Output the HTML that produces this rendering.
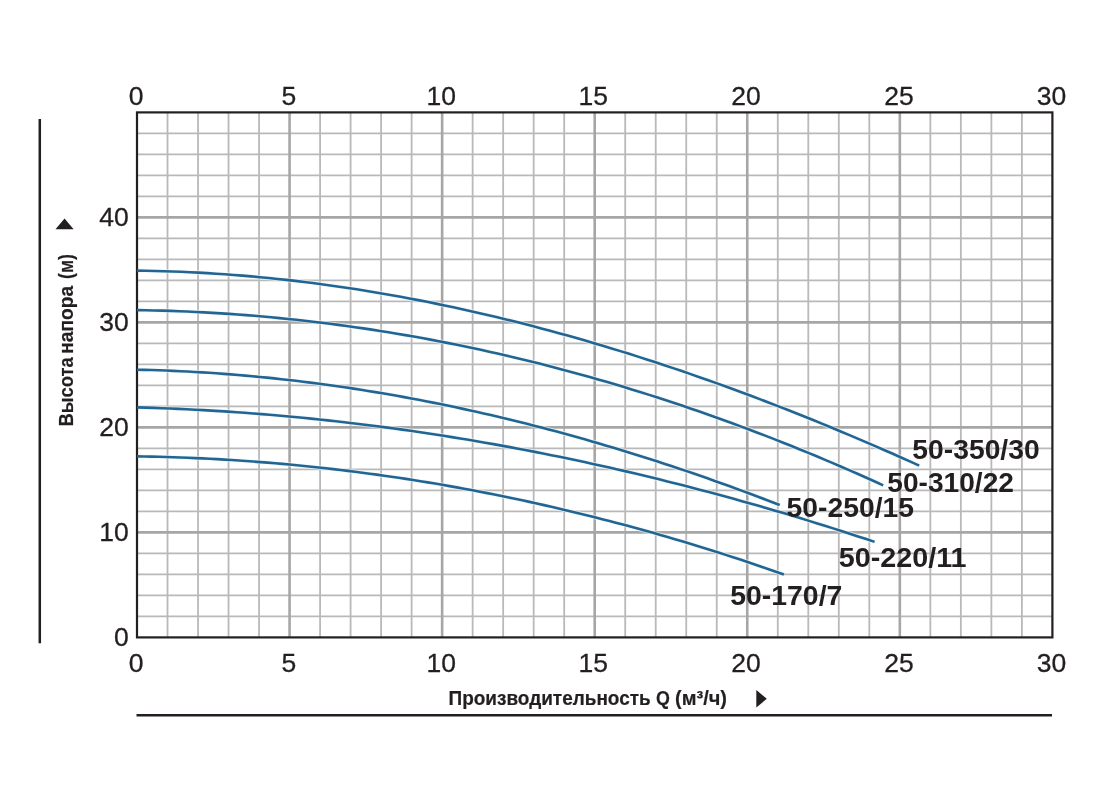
<!DOCTYPE html>
<html><head><meta charset="utf-8"><style>
html,body{margin:0;padding:0;background:#fff;width:1116px;height:790px;overflow:hidden}
svg{display:block;will-change:transform}
text{font-family:"Liberation Sans",sans-serif;fill:#231f20}
.tk{font-size:26.5px;stroke:#231f20;stroke-width:0.3px}
.cl{font-size:27px;font-weight:bold}
.ax{font-size:19.5px;font-weight:bold;stroke:#231f20;stroke-width:0.2px}
.gm{stroke:#b9b9b9;stroke-width:1.8}
.gM{stroke:#a6a6a6;stroke-width:2.6}
.cs{fill:none;stroke:#eef8fc;stroke-width:4.6;stroke-opacity:0.6}
.cv{fill:none;stroke:#236592;stroke-width:2.6;stroke-linecap:butt}
</style></head><body>
<svg width="1116" height="790" viewBox="0 0 1116 790">
<rect width="1116" height="790" fill="#fff"/>
<line x1="167.51" y1="112.40" x2="167.51" y2="637.40" class="gm"/><line x1="198.03" y1="112.40" x2="198.03" y2="637.40" class="gm"/><line x1="228.54" y1="112.40" x2="228.54" y2="637.40" class="gm"/><line x1="259.05" y1="112.40" x2="259.05" y2="637.40" class="gm"/><line x1="320.08" y1="112.40" x2="320.08" y2="637.40" class="gm"/><line x1="350.59" y1="112.40" x2="350.59" y2="637.40" class="gm"/><line x1="381.11" y1="112.40" x2="381.11" y2="637.40" class="gm"/><line x1="411.62" y1="112.40" x2="411.62" y2="637.40" class="gm"/><line x1="472.65" y1="112.40" x2="472.65" y2="637.40" class="gm"/><line x1="503.16" y1="112.40" x2="503.16" y2="637.40" class="gm"/><line x1="533.67" y1="112.40" x2="533.67" y2="637.40" class="gm"/><line x1="564.19" y1="112.40" x2="564.19" y2="637.40" class="gm"/><line x1="625.21" y1="112.40" x2="625.21" y2="637.40" class="gm"/><line x1="655.73" y1="112.40" x2="655.73" y2="637.40" class="gm"/><line x1="686.24" y1="112.40" x2="686.24" y2="637.40" class="gm"/><line x1="716.75" y1="112.40" x2="716.75" y2="637.40" class="gm"/><line x1="777.78" y1="112.40" x2="777.78" y2="637.40" class="gm"/><line x1="808.29" y1="112.40" x2="808.29" y2="637.40" class="gm"/><line x1="838.81" y1="112.40" x2="838.81" y2="637.40" class="gm"/><line x1="869.32" y1="112.40" x2="869.32" y2="637.40" class="gm"/><line x1="930.35" y1="112.40" x2="930.35" y2="637.40" class="gm"/><line x1="960.86" y1="112.40" x2="960.86" y2="637.40" class="gm"/><line x1="991.37" y1="112.40" x2="991.37" y2="637.40" class="gm"/><line x1="1021.89" y1="112.40" x2="1021.89" y2="637.40" class="gm"/><line x1="137.00" y1="616.40" x2="1052.40" y2="616.40" class="gm"/><line x1="137.00" y1="595.40" x2="1052.40" y2="595.40" class="gm"/><line x1="137.00" y1="574.40" x2="1052.40" y2="574.40" class="gm"/><line x1="137.00" y1="553.40" x2="1052.40" y2="553.40" class="gm"/><line x1="137.00" y1="511.40" x2="1052.40" y2="511.40" class="gm"/><line x1="137.00" y1="490.40" x2="1052.40" y2="490.40" class="gm"/><line x1="137.00" y1="469.40" x2="1052.40" y2="469.40" class="gm"/><line x1="137.00" y1="448.40" x2="1052.40" y2="448.40" class="gm"/><line x1="137.00" y1="406.40" x2="1052.40" y2="406.40" class="gm"/><line x1="137.00" y1="385.40" x2="1052.40" y2="385.40" class="gm"/><line x1="137.00" y1="364.40" x2="1052.40" y2="364.40" class="gm"/><line x1="137.00" y1="343.40" x2="1052.40" y2="343.40" class="gm"/><line x1="137.00" y1="301.40" x2="1052.40" y2="301.40" class="gm"/><line x1="137.00" y1="280.40" x2="1052.40" y2="280.40" class="gm"/><line x1="137.00" y1="259.40" x2="1052.40" y2="259.40" class="gm"/><line x1="137.00" y1="238.40" x2="1052.40" y2="238.40" class="gm"/><line x1="137.00" y1="196.40" x2="1052.40" y2="196.40" class="gm"/><line x1="137.00" y1="175.40" x2="1052.40" y2="175.40" class="gm"/><line x1="137.00" y1="154.40" x2="1052.40" y2="154.40" class="gm"/><line x1="137.00" y1="133.40" x2="1052.40" y2="133.40" class="gm"/><line x1="289.57" y1="112.40" x2="289.57" y2="637.40" class="gM"/><line x1="442.13" y1="112.40" x2="442.13" y2="637.40" class="gM"/><line x1="594.70" y1="112.40" x2="594.70" y2="637.40" class="gM"/><line x1="747.27" y1="112.40" x2="747.27" y2="637.40" class="gM"/><line x1="899.83" y1="112.40" x2="899.83" y2="637.40" class="gM"/><line x1="137.00" y1="532.40" x2="1052.40" y2="532.40" class="gM"/><line x1="137.00" y1="427.40" x2="1052.40" y2="427.40" class="gM"/><line x1="137.00" y1="322.40" x2="1052.40" y2="322.40" class="gM"/><line x1="137.00" y1="217.40" x2="1052.40" y2="217.40" class="gM"/>
<path class="cs" d="M137.00,270.64 L145.79,270.77 L154.58,270.95 L163.37,271.18 L172.16,271.46 L180.94,271.80 L189.73,272.19 L198.52,272.64 L207.31,273.13 L216.10,273.68 L224.89,274.28 L233.68,274.93 L242.47,275.63 L251.25,276.38 L260.04,277.19 L268.83,278.04 L277.62,278.95 L286.41,279.90 L295.20,280.91 L303.99,281.97 L312.78,283.07 L321.56,284.22 L330.35,285.43 L339.14,286.68 L347.93,287.98 L356.72,289.33 L365.51,290.73 L374.30,292.17 L383.09,293.66 L391.87,295.20 L400.66,296.79 L409.45,298.42 L418.24,300.11 L427.03,301.83 L435.82,303.61 L444.61,305.43 L453.40,307.29 L462.18,309.20 L470.97,311.16 L479.76,313.16 L488.55,315.21 L497.34,317.30 L506.13,319.43 L514.92,321.61 L523.71,323.83 L532.49,326.10 L541.28,328.41 L550.07,330.77 L558.86,333.16 L567.65,335.60 L576.44,338.08 L585.23,340.61 L594.02,343.18 L602.80,345.78 L611.59,348.43 L620.38,351.12 L629.17,353.86 L637.96,356.63 L646.75,359.44 L655.54,362.30 L664.33,365.19 L673.11,368.13 L681.90,371.10 L690.69,374.12 L699.48,377.17 L708.27,380.26 L717.06,383.39 L725.85,386.56 L734.64,389.77 L743.42,393.02 L752.21,396.30 L761.00,399.62 L769.79,402.98 L778.58,406.38 L787.37,409.81 L796.16,413.28 L804.95,416.79 L813.73,420.33 L822.52,423.91 L831.31,427.53 L840.10,431.18 L848.89,434.86 L857.68,438.58 L866.47,442.34 L875.26,446.13 L884.04,449.96 L892.83,453.81 L901.62,457.71 L910.41,461.63 L919.20,465.59"/><path class="cs" d="M137.00,310.13 L145.38,310.27 L153.77,310.44 L162.15,310.66 L170.54,310.92 L178.92,311.22 L187.31,311.56 L195.69,311.95 L204.07,312.37 L212.46,312.84 L220.84,313.35 L229.23,313.90 L237.61,314.50 L246.00,315.13 L254.38,315.81 L262.76,316.53 L271.15,317.29 L279.53,318.09 L287.92,318.93 L296.30,319.81 L304.69,320.74 L313.07,321.71 L321.45,322.72 L329.84,323.77 L338.22,324.86 L346.61,326.00 L354.99,327.18 L363.38,328.39 L371.76,329.65 L380.14,330.96 L388.53,332.30 L396.91,333.69 L405.30,335.11 L413.68,336.58 L422.07,338.09 L430.45,339.64 L438.83,341.24 L447.22,342.87 L455.60,344.55 L463.99,346.27 L472.37,348.03 L480.76,349.83 L489.14,351.67 L497.52,353.56 L505.91,355.48 L514.29,357.45 L522.68,359.46 L531.06,361.52 L539.44,363.61 L547.83,365.74 L556.21,367.92 L564.60,370.14 L572.98,372.40 L581.37,374.70 L589.75,377.05 L598.13,379.43 L606.52,381.86 L614.90,384.33 L623.29,386.84 L631.67,389.39 L640.06,391.98 L648.44,394.62 L656.82,397.29 L665.21,400.01 L673.59,402.77 L681.98,405.58 L690.36,408.42 L698.75,411.30 L707.13,414.23 L715.51,417.20 L723.90,420.21 L732.28,423.26 L740.67,426.35 L749.05,429.49 L757.44,432.67 L765.82,435.89 L774.20,439.15 L782.59,442.45 L790.97,445.79 L799.36,449.18 L807.74,452.60 L816.13,456.07 L824.51,459.58 L832.89,463.13 L841.28,466.72 L849.66,470.36 L858.05,474.04 L866.43,477.75 L874.82,481.51 L883.20,485.32"/><path class="cs" d="M137.00,369.68 L144.22,369.85 L151.44,370.05 L158.66,370.28 L165.89,370.55 L173.11,370.85 L180.33,371.18 L187.55,371.54 L194.77,371.94 L201.99,372.36 L209.21,372.82 L216.43,373.31 L223.66,373.84 L230.88,374.39 L238.10,374.98 L245.32,375.60 L252.54,376.25 L259.76,376.93 L266.98,377.65 L274.21,378.39 L281.43,379.17 L288.65,379.98 L295.87,380.82 L303.09,381.69 L310.31,382.59 L317.53,383.53 L324.76,384.49 L331.98,385.48 L339.20,386.51 L346.42,387.57 L353.64,388.66 L360.86,389.78 L368.08,390.92 L375.30,392.10 L382.53,393.31 L389.75,394.56 L396.97,395.83 L404.19,397.13 L411.41,398.46 L418.63,399.82 L425.85,401.22 L433.08,402.64 L440.30,404.09 L447.52,405.57 L454.74,407.09 L461.96,408.63 L469.18,410.20 L476.40,411.80 L483.62,413.43 L490.85,415.09 L498.07,416.78 L505.29,418.50 L512.51,420.25 L519.73,422.03 L526.95,423.84 L534.17,425.68 L541.40,427.54 L548.62,429.44 L555.84,431.36 L563.06,433.32 L570.28,435.30 L577.50,437.31 L584.72,439.35 L591.94,441.42 L599.17,443.51 L606.39,445.64 L613.61,447.79 L620.83,449.97 L628.05,452.18 L635.27,454.42 L642.49,456.69 L649.72,458.98 L656.94,461.31 L664.16,463.66 L671.38,466.04 L678.60,468.45 L685.82,470.88 L693.04,473.34 L700.27,475.83 L707.49,478.35 L714.71,480.90 L721.93,483.47 L729.15,486.07 L736.37,488.70 L743.59,491.35 L750.81,494.04 L758.04,496.75 L765.26,499.48 L772.48,502.25 L779.70,505.04"/><path class="cs" d="M137.00,407.39 L145.29,407.63 L153.58,407.90 L161.86,408.20 L170.15,408.53 L178.44,408.89 L186.73,409.28 L195.01,409.69 L203.30,410.14 L211.59,410.62 L219.88,411.12 L228.16,411.66 L236.45,412.22 L244.74,412.82 L253.03,413.44 L261.31,414.09 L269.60,414.77 L277.89,415.48 L286.18,416.22 L294.47,416.99 L302.75,417.79 L311.04,418.62 L319.33,419.47 L327.62,420.36 L335.90,421.27 L344.19,422.22 L352.48,423.19 L360.77,424.19 L369.05,425.22 L377.34,426.28 L385.63,427.37 L393.92,428.49 L402.20,429.63 L410.49,430.81 L418.78,432.01 L427.07,433.24 L435.36,434.50 L443.64,435.79 L451.93,437.11 L460.22,438.46 L468.51,439.83 L476.79,441.24 L485.08,442.67 L493.37,444.13 L501.66,445.62 L509.94,447.14 L518.23,448.69 L526.52,450.27 L534.81,451.87 L543.09,453.50 L551.38,455.16 L559.67,456.85 L567.96,458.57 L576.24,460.32 L584.53,462.09 L592.82,463.90 L601.11,465.73 L609.40,467.59 L617.68,469.47 L625.97,471.39 L634.26,473.33 L642.55,475.31 L650.83,477.31 L659.12,479.33 L667.41,481.39 L675.70,483.48 L683.98,485.59 L692.27,487.73 L700.56,489.90 L708.85,492.09 L717.13,494.32 L725.42,496.57 L733.71,498.85 L742.00,501.16 L750.29,503.50 L758.57,505.86 L766.86,508.25 L775.15,510.67 L783.44,513.12 L791.72,515.59 L800.01,518.10 L808.30,520.63 L816.59,523.18 L824.87,525.77 L833.16,528.38 L841.45,531.02 L849.74,533.69 L858.02,536.39 L866.31,539.11 L874.60,541.86"/><path class="cs" d="M137.00,456.38 L144.27,456.49 L151.54,456.64 L158.81,456.81 L166.07,457.01 L173.34,457.24 L180.61,457.49 L187.88,457.77 L195.15,458.08 L202.42,458.41 L209.69,458.78 L216.95,459.17 L224.22,459.58 L231.49,460.03 L238.76,460.50 L246.03,461.00 L253.30,461.52 L260.57,462.08 L267.83,462.66 L275.10,463.27 L282.37,463.90 L289.64,464.57 L296.91,465.26 L304.18,465.97 L311.44,466.72 L318.71,467.49 L325.98,468.29 L333.25,469.12 L340.52,469.97 L347.79,470.86 L355.06,471.77 L362.32,472.70 L369.59,473.67 L376.86,474.66 L384.13,475.68 L391.40,476.73 L398.67,477.80 L405.94,478.91 L413.20,480.04 L420.47,481.20 L427.74,482.38 L435.01,483.59 L442.28,484.83 L449.55,486.10 L456.82,487.40 L464.08,488.72 L471.35,490.07 L478.62,491.45 L485.89,492.86 L493.16,494.29 L500.43,495.75 L507.70,497.24 L514.96,498.76 L522.23,500.31 L529.50,501.88 L536.77,503.48 L544.04,505.11 L551.31,506.76 L558.58,508.45 L565.84,510.16 L573.11,511.90 L580.38,513.67 L587.65,515.46 L594.92,517.28 L602.19,519.14 L609.46,521.01 L616.72,522.92 L623.99,524.86 L631.26,526.82 L638.53,528.81 L645.80,530.83 L653.07,532.87 L660.33,534.95 L667.60,537.05 L674.87,539.18 L682.14,541.34 L689.41,543.52 L696.68,545.74 L703.95,547.98 L711.21,550.25 L718.48,552.55 L725.75,554.87 L733.02,557.23 L740.29,559.61 L747.56,562.02 L754.83,564.46 L762.09,566.93 L769.36,569.42 L776.63,571.94 L783.90,574.49"/>
<rect x="137.00" y="112.40" width="915.40" height="525.00" fill="none" stroke="#231f20" stroke-width="2.2"/>
<path class="cv" d="M137.00,270.64 L145.79,270.77 L154.58,270.95 L163.37,271.18 L172.16,271.46 L180.94,271.80 L189.73,272.19 L198.52,272.64 L207.31,273.13 L216.10,273.68 L224.89,274.28 L233.68,274.93 L242.47,275.63 L251.25,276.38 L260.04,277.19 L268.83,278.04 L277.62,278.95 L286.41,279.90 L295.20,280.91 L303.99,281.97 L312.78,283.07 L321.56,284.22 L330.35,285.43 L339.14,286.68 L347.93,287.98 L356.72,289.33 L365.51,290.73 L374.30,292.17 L383.09,293.66 L391.87,295.20 L400.66,296.79 L409.45,298.42 L418.24,300.11 L427.03,301.83 L435.82,303.61 L444.61,305.43 L453.40,307.29 L462.18,309.20 L470.97,311.16 L479.76,313.16 L488.55,315.21 L497.34,317.30 L506.13,319.43 L514.92,321.61 L523.71,323.83 L532.49,326.10 L541.28,328.41 L550.07,330.77 L558.86,333.16 L567.65,335.60 L576.44,338.08 L585.23,340.61 L594.02,343.18 L602.80,345.78 L611.59,348.43 L620.38,351.12 L629.17,353.86 L637.96,356.63 L646.75,359.44 L655.54,362.30 L664.33,365.19 L673.11,368.13 L681.90,371.10 L690.69,374.12 L699.48,377.17 L708.27,380.26 L717.06,383.39 L725.85,386.56 L734.64,389.77 L743.42,393.02 L752.21,396.30 L761.00,399.62 L769.79,402.98 L778.58,406.38 L787.37,409.81 L796.16,413.28 L804.95,416.79 L813.73,420.33 L822.52,423.91 L831.31,427.53 L840.10,431.18 L848.89,434.86 L857.68,438.58 L866.47,442.34 L875.26,446.13 L884.04,449.96 L892.83,453.81 L901.62,457.71 L910.41,461.63 L919.20,465.59"/><path class="cv" d="M137.00,310.13 L145.38,310.27 L153.77,310.44 L162.15,310.66 L170.54,310.92 L178.92,311.22 L187.31,311.56 L195.69,311.95 L204.07,312.37 L212.46,312.84 L220.84,313.35 L229.23,313.90 L237.61,314.50 L246.00,315.13 L254.38,315.81 L262.76,316.53 L271.15,317.29 L279.53,318.09 L287.92,318.93 L296.30,319.81 L304.69,320.74 L313.07,321.71 L321.45,322.72 L329.84,323.77 L338.22,324.86 L346.61,326.00 L354.99,327.18 L363.38,328.39 L371.76,329.65 L380.14,330.96 L388.53,332.30 L396.91,333.69 L405.30,335.11 L413.68,336.58 L422.07,338.09 L430.45,339.64 L438.83,341.24 L447.22,342.87 L455.60,344.55 L463.99,346.27 L472.37,348.03 L480.76,349.83 L489.14,351.67 L497.52,353.56 L505.91,355.48 L514.29,357.45 L522.68,359.46 L531.06,361.52 L539.44,363.61 L547.83,365.74 L556.21,367.92 L564.60,370.14 L572.98,372.40 L581.37,374.70 L589.75,377.05 L598.13,379.43 L606.52,381.86 L614.90,384.33 L623.29,386.84 L631.67,389.39 L640.06,391.98 L648.44,394.62 L656.82,397.29 L665.21,400.01 L673.59,402.77 L681.98,405.58 L690.36,408.42 L698.75,411.30 L707.13,414.23 L715.51,417.20 L723.90,420.21 L732.28,423.26 L740.67,426.35 L749.05,429.49 L757.44,432.67 L765.82,435.89 L774.20,439.15 L782.59,442.45 L790.97,445.79 L799.36,449.18 L807.74,452.60 L816.13,456.07 L824.51,459.58 L832.89,463.13 L841.28,466.72 L849.66,470.36 L858.05,474.04 L866.43,477.75 L874.82,481.51 L883.20,485.32"/><path class="cv" d="M137.00,369.68 L144.22,369.85 L151.44,370.05 L158.66,370.28 L165.89,370.55 L173.11,370.85 L180.33,371.18 L187.55,371.54 L194.77,371.94 L201.99,372.36 L209.21,372.82 L216.43,373.31 L223.66,373.84 L230.88,374.39 L238.10,374.98 L245.32,375.60 L252.54,376.25 L259.76,376.93 L266.98,377.65 L274.21,378.39 L281.43,379.17 L288.65,379.98 L295.87,380.82 L303.09,381.69 L310.31,382.59 L317.53,383.53 L324.76,384.49 L331.98,385.48 L339.20,386.51 L346.42,387.57 L353.64,388.66 L360.86,389.78 L368.08,390.92 L375.30,392.10 L382.53,393.31 L389.75,394.56 L396.97,395.83 L404.19,397.13 L411.41,398.46 L418.63,399.82 L425.85,401.22 L433.08,402.64 L440.30,404.09 L447.52,405.57 L454.74,407.09 L461.96,408.63 L469.18,410.20 L476.40,411.80 L483.62,413.43 L490.85,415.09 L498.07,416.78 L505.29,418.50 L512.51,420.25 L519.73,422.03 L526.95,423.84 L534.17,425.68 L541.40,427.54 L548.62,429.44 L555.84,431.36 L563.06,433.32 L570.28,435.30 L577.50,437.31 L584.72,439.35 L591.94,441.42 L599.17,443.51 L606.39,445.64 L613.61,447.79 L620.83,449.97 L628.05,452.18 L635.27,454.42 L642.49,456.69 L649.72,458.98 L656.94,461.31 L664.16,463.66 L671.38,466.04 L678.60,468.45 L685.82,470.88 L693.04,473.34 L700.27,475.83 L707.49,478.35 L714.71,480.90 L721.93,483.47 L729.15,486.07 L736.37,488.70 L743.59,491.35 L750.81,494.04 L758.04,496.75 L765.26,499.48 L772.48,502.25 L779.70,505.04"/><path class="cv" d="M137.00,407.39 L145.29,407.63 L153.58,407.90 L161.86,408.20 L170.15,408.53 L178.44,408.89 L186.73,409.28 L195.01,409.69 L203.30,410.14 L211.59,410.62 L219.88,411.12 L228.16,411.66 L236.45,412.22 L244.74,412.82 L253.03,413.44 L261.31,414.09 L269.60,414.77 L277.89,415.48 L286.18,416.22 L294.47,416.99 L302.75,417.79 L311.04,418.62 L319.33,419.47 L327.62,420.36 L335.90,421.27 L344.19,422.22 L352.48,423.19 L360.77,424.19 L369.05,425.22 L377.34,426.28 L385.63,427.37 L393.92,428.49 L402.20,429.63 L410.49,430.81 L418.78,432.01 L427.07,433.24 L435.36,434.50 L443.64,435.79 L451.93,437.11 L460.22,438.46 L468.51,439.83 L476.79,441.24 L485.08,442.67 L493.37,444.13 L501.66,445.62 L509.94,447.14 L518.23,448.69 L526.52,450.27 L534.81,451.87 L543.09,453.50 L551.38,455.16 L559.67,456.85 L567.96,458.57 L576.24,460.32 L584.53,462.09 L592.82,463.90 L601.11,465.73 L609.40,467.59 L617.68,469.47 L625.97,471.39 L634.26,473.33 L642.55,475.31 L650.83,477.31 L659.12,479.33 L667.41,481.39 L675.70,483.48 L683.98,485.59 L692.27,487.73 L700.56,489.90 L708.85,492.09 L717.13,494.32 L725.42,496.57 L733.71,498.85 L742.00,501.16 L750.29,503.50 L758.57,505.86 L766.86,508.25 L775.15,510.67 L783.44,513.12 L791.72,515.59 L800.01,518.10 L808.30,520.63 L816.59,523.18 L824.87,525.77 L833.16,528.38 L841.45,531.02 L849.74,533.69 L858.02,536.39 L866.31,539.11 L874.60,541.86"/><path class="cv" d="M137.00,456.38 L144.27,456.49 L151.54,456.64 L158.81,456.81 L166.07,457.01 L173.34,457.24 L180.61,457.49 L187.88,457.77 L195.15,458.08 L202.42,458.41 L209.69,458.78 L216.95,459.17 L224.22,459.58 L231.49,460.03 L238.76,460.50 L246.03,461.00 L253.30,461.52 L260.57,462.08 L267.83,462.66 L275.10,463.27 L282.37,463.90 L289.64,464.57 L296.91,465.26 L304.18,465.97 L311.44,466.72 L318.71,467.49 L325.98,468.29 L333.25,469.12 L340.52,469.97 L347.79,470.86 L355.06,471.77 L362.32,472.70 L369.59,473.67 L376.86,474.66 L384.13,475.68 L391.40,476.73 L398.67,477.80 L405.94,478.91 L413.20,480.04 L420.47,481.20 L427.74,482.38 L435.01,483.59 L442.28,484.83 L449.55,486.10 L456.82,487.40 L464.08,488.72 L471.35,490.07 L478.62,491.45 L485.89,492.86 L493.16,494.29 L500.43,495.75 L507.70,497.24 L514.96,498.76 L522.23,500.31 L529.50,501.88 L536.77,503.48 L544.04,505.11 L551.31,506.76 L558.58,508.45 L565.84,510.16 L573.11,511.90 L580.38,513.67 L587.65,515.46 L594.92,517.28 L602.19,519.14 L609.46,521.01 L616.72,522.92 L623.99,524.86 L631.26,526.82 L638.53,528.81 L645.80,530.83 L653.07,532.87 L660.33,534.95 L667.60,537.05 L674.87,539.18 L682.14,541.34 L689.41,543.52 L696.68,545.74 L703.95,547.98 L711.21,550.25 L718.48,552.55 L725.75,554.87 L733.02,557.23 L740.29,559.61 L747.56,562.02 L754.83,564.46 L762.09,566.93 L769.36,569.42 L776.63,571.94 L783.90,574.49"/>
<text x="136" y="104.5" class="tk" text-anchor="middle">0</text><text x="136" y="671.5" class="tk" text-anchor="middle">0</text><text x="288.8" y="104.5" class="tk" text-anchor="middle">5</text><text x="288.8" y="671.5" class="tk" text-anchor="middle">5</text><text x="441.2" y="104.5" class="tk" text-anchor="middle">10</text><text x="441.2" y="671.5" class="tk" text-anchor="middle">10</text><text x="593.3" y="104.5" class="tk" text-anchor="middle">15</text><text x="593.3" y="671.5" class="tk" text-anchor="middle">15</text><text x="746" y="104.5" class="tk" text-anchor="middle">20</text><text x="746" y="671.5" class="tk" text-anchor="middle">20</text><text x="899" y="104.5" class="tk" text-anchor="middle">25</text><text x="899" y="671.5" class="tk" text-anchor="middle">25</text><text x="1051.5" y="104.5" class="tk" text-anchor="middle">30</text><text x="1051.5" y="671.5" class="tk" text-anchor="middle">30</text><text x="128.8" y="645.80" class="tk" text-anchor="end">0</text><text x="128.8" y="540.80" class="tk" text-anchor="end">10</text><text x="128.8" y="435.80" class="tk" text-anchor="end">20</text><text x="128.8" y="330.80" class="tk" text-anchor="end">30</text><text x="128.8" y="225.80" class="tk" text-anchor="end">40</text>
<text x="912.3" y="459.0" class="cl" textLength="127.4" lengthAdjust="spacingAndGlyphs">50-350/30</text><text x="887.3" y="492.0" class="cl" textLength="126.6" lengthAdjust="spacingAndGlyphs">50-310/22</text><text x="786.6" y="517.0" class="cl" textLength="127.4" lengthAdjust="spacingAndGlyphs">50-250/15</text><text x="838.7" y="566.9" class="cl" textLength="127.9" lengthAdjust="spacingAndGlyphs">50-220/11</text><text x="730.2" y="605.3" class="cl" textLength="112.2" lengthAdjust="spacingAndGlyphs">50-170/7</text>
<line x1="39.8" y1="119" x2="39.8" y2="643.2" stroke="#231f20" stroke-width="2.5"/>
<line x1="136.5" y1="715.2" x2="1052" y2="715.2" stroke="#231f20" stroke-width="2.5"/>
<polygon points="55.5,229.3 73.6,229.3 64.55,218.4" fill="#231f20"/>
<polygon points="756.3,690.0 756.3,707.6 766.8,698.8" fill="#231f20"/>
<g transform="translate(73.4,0) rotate(-90)"><text class="ax" x="-426.60" y="0" textLength="69.40" lengthAdjust="spacingAndGlyphs">Высота</text><text class="ax" x="-353.80" y="0" textLength="67.90" lengthAdjust="spacingAndGlyphs">напора</text><text class="ax" x="-278.90" y="0" textLength="24.90" lengthAdjust="spacingAndGlyphs">(м)</text></g>
<text class="ax" x="448.50" y="705.4" textLength="202.20" lengthAdjust="spacingAndGlyphs">Производительность</text><text class="ax" x="655.90" y="705.4" textLength="13.90" lengthAdjust="spacingAndGlyphs">Q</text><text class="ax" x="675.00" y="705.4" textLength="52.00" lengthAdjust="spacingAndGlyphs">(м³/ч)</text>
</svg>
</body></html>
